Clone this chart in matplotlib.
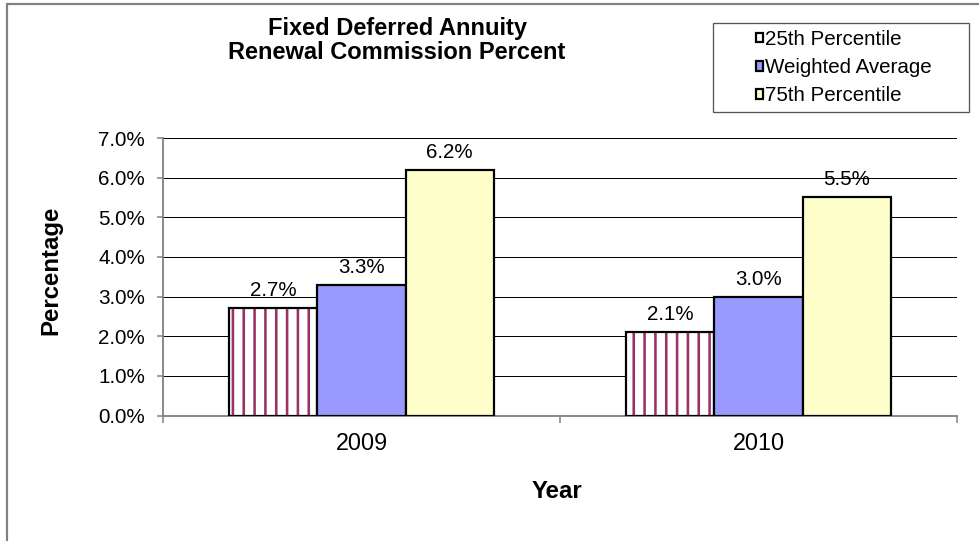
import numpy as np
import matplotlib
matplotlib.use('Agg')
import matplotlib.pyplot as plt
from matplotlib.patches import Rectangle
from matplotlib.ticker import FuncFormatter, FixedLocator

# ── data ───────────────────────────────────────────────────────────────────
years       = ["2009", "2010"]
series      = ["25th Percentile", "Weighted Average", "75th Percentile"]
pct_25th    = [2.7, 2.1]
pct_wavg    = [3.3, 3.0]
pct_75th    = [6.2, 5.5]
y_ticks     = [0, 1, 2, 3, 4, 5, 6, 7]

# ── sizes are thought of in pixels, converted to points for this dpi ──────
DPI = 130
W, H = 979, 541
def pt(px):
    return px * 72.0 / DPI

plt.rcParams['font.family'] = ['Liberation Sans', 'DejaVu Sans']
plt.rcParams['hatch.linewidth'] = pt(2.6)

fig = plt.figure(figsize=(W / DPI, H / DPI), dpi=DPI)
ax = fig.add_axes([163 / W, 1 - 415.5 / H, (957 - 163) / W, (415.5 - 138) / H])

x = np.arange(len(years))
bw = 0.222
lw = pt(2.2)

# 25th percentile: white with maroon vertical stripes, then a black outline
b25h = ax.bar(x - bw, pct_25th, bw, facecolor='white', edgecolor='#993366',
              hatch='||', linewidth=0, zorder=2)
b25o = ax.bar(x - bw, pct_25th, bw, facecolor='none', edgecolor='black',
              linewidth=lw, zorder=3)
bwav = ax.bar(x, pct_wavg, bw, facecolor='#9999FF', edgecolor='black',
              linewidth=lw, zorder=3)
b75 = ax.bar(x + bw, pct_75th, bw, facecolor='#FFFFCC', edgecolor='black',
             linewidth=lw, zorder=3)

for cont in (b25o, bwav, b75):
    ax.bar_label(cont, labels=[f"{v:.1f}%" for v in cont.datavalues],
                 padding=pt(8), fontsize=pt(20.5), color='black')

# ── axes styling ───────────────────────────────────────────────────────────
ax.set_xlim(-0.5, 1.5)
ax.set_ylim(0, 7)
ax.yaxis.set_major_locator(FixedLocator(y_ticks))
ax.yaxis.set_major_formatter(FuncFormatter(lambda v, p: f"{v:.1f}%"))
ax.grid(axis='y', color='black', linewidth=pt(1.0))
ax.set_axisbelow(True)

ax.set_xticks(x)
ax.set_xticklabels(years)
ax.set_xticks([-0.5, 0.5, 1.5], minor=True)
ax.tick_params(axis='x', which='major', length=0, pad=pt(17), labelsize=pt(23.4))
ax.tick_params(axis='x', which='minor', length=pt(7), width=pt(1.5),
               color='#808080', direction='out')
ax.tick_params(axis='y', length=pt(6), width=pt(1.5), color='#808080',
               pad=pt(12), labelsize=pt(20.6))

for side in ('top', 'right'):
    ax.spines[side].set_visible(False)
for side in ('left', 'bottom'):
    ax.spines[side].set_color('#808080')
    ax.spines[side].set_linewidth(pt(1.8))

# ── titles ─────────────────────────────────────────────────────────────────
fig.text(397 / W, 1 - 17 / H, "Fixed Deferred Annuity\nRenewal Commission Percent",
         ha='center', va='top', fontsize=pt(23.6), fontweight='bold',
         linespacing=1.05)
fig.text(51 / W, 1 - 270 / H, "Percentage", rotation=90, ha='center',
         va='center', fontsize=pt(24), fontweight='bold')
fig.text(557 / W, 1 - 491 / H, "Year", ha='center', va='center',
         fontsize=pt(24), fontweight='bold')

# ── legend with its own box ────────────────────────────────────────────────
leg = fig.legend([(b25h[0], b25o[0]), bwav[0], b75[0]], series,
                 loc='upper left', bbox_to_anchor=(756 / W, 1 - 30 / H),
                 frameon=False, borderpad=0, borderaxespad=0,
                 handlelength=0.35, handleheight=0.35, handletextpad=0.1,
                 labelspacing=0.45, fontsize=pt(20.5))
fig.add_artist(Rectangle((713 / W, 1 - 112 / H), (969 - 713) / W, (112 - 23) / H,
                         transform=fig.transFigure, fill=False,
                         edgecolor='#555555', linewidth=pt(1.3)))

# outer chart frame (only left and top edges fall inside the picture)
fig.add_artist(Rectangle((6.5 / W, -0.1), 1.2, 1.1 - 3.5 / H,
                         transform=fig.transFigure, fill=False,
                         edgecolor='#808080', linewidth=pt(2.2)))

fig.savefig("out.png", dpi=DPI)
